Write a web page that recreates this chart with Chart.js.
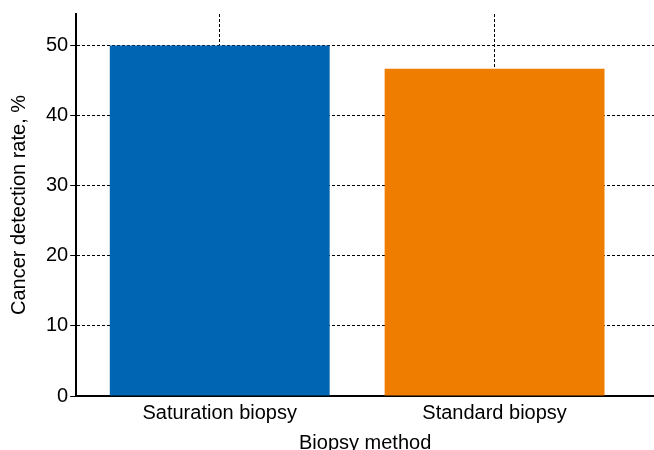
<!DOCTYPE html>
<html>
<head>
<meta charset="utf-8">
<script src="https://cdn.jsdelivr.net/npm/chart.js@4"></script>
<style>
  html, body { margin: 0; padding: 0; overflow: hidden; background: #fff; }
  #wrap { width: 654px; height: 455px; position: relative; }
</style>
</head>
<body>
<div id="wrap"><canvas id="biopsyChart"></canvas></div>
<script>
const categories = ['Saturation biopsy', 'Standard biopsy'];
const detectionRate = [50, 46.7];
const barColors = ['#0066b3', '#ef7d00'];
const yTicks = [0, 10, 20, 30, 40, 50];

Chart.defaults.font.family = '"Liberation Sans", Arial, sans-serif';
Chart.defaults.color = '#000';

const data = {
  datasets: [{
    label: 'Cancer detection rate',
    data: categories.map((c, i) => ({ x: i + 1, y: detectionRate[i] })),
    backgroundColor: barColors,
    borderWidth: 0,
    barPercentage: 1,
    categoryPercentage: 0.8
  }]
};

const config = {
  type: 'bar',
  data: data,
  options: {
    responsive: true,
    maintainAspectRatio: false,
    animation: false,
    layout: { padding: { top: 14, right: 0, left: 7, bottom: 0 } },
    plugins: {
      legend: { display: false },
      tooltip: { enabled: false }
    },
    scales: {
      x: {
        type: 'linear',
        offset: false,
        min: 0.478,
        max: 2.58,
        afterBuildTicks: s => { s.ticks = categories.map((c, i) => ({ value: i + 1 })); },
        ticks: {
          callback: v => categories[v - 1],
          font: { size: 20 },
          padding: 5,
          maxRotation: 0
        },
        grid: {
          offset: false,
          color: '#000',
          drawTicks: false,
          lineWidth: 1
        },
        border: { display: true, color: '#000', width: 2, dash: [3, 2] },
        title: {
          display: true,
          text: 'Biopsy method',
          font: { size: 20 },
          padding: { top: 1, bottom: 0 }
        }
      },
      y: {
        min: 0,
        max: 54.5,
        afterBuildTicks: s => { s.ticks = yTicks.map(v => ({ value: v })); },
        ticks: {
          font: { size: 20 },
          padding: 2
        },
        grid: {
          color: '#000',
          tickBorderDash: [],
          tickColor: '#000',
          tickLength: 6,
          lineWidth: 1
        },
        border: { display: true, color: '#000', width: 2, dash: [3, 2] },
        title: {
          display: true,
          text: 'Cancer detection rate, %',
          font: { size: 20 },
          padding: { top: 0, bottom: 13 }
        }
      }
    }
  }
};

let myChart = new Chart(document.getElementById('biopsyChart'), config);
</script>
</body>
</html>
